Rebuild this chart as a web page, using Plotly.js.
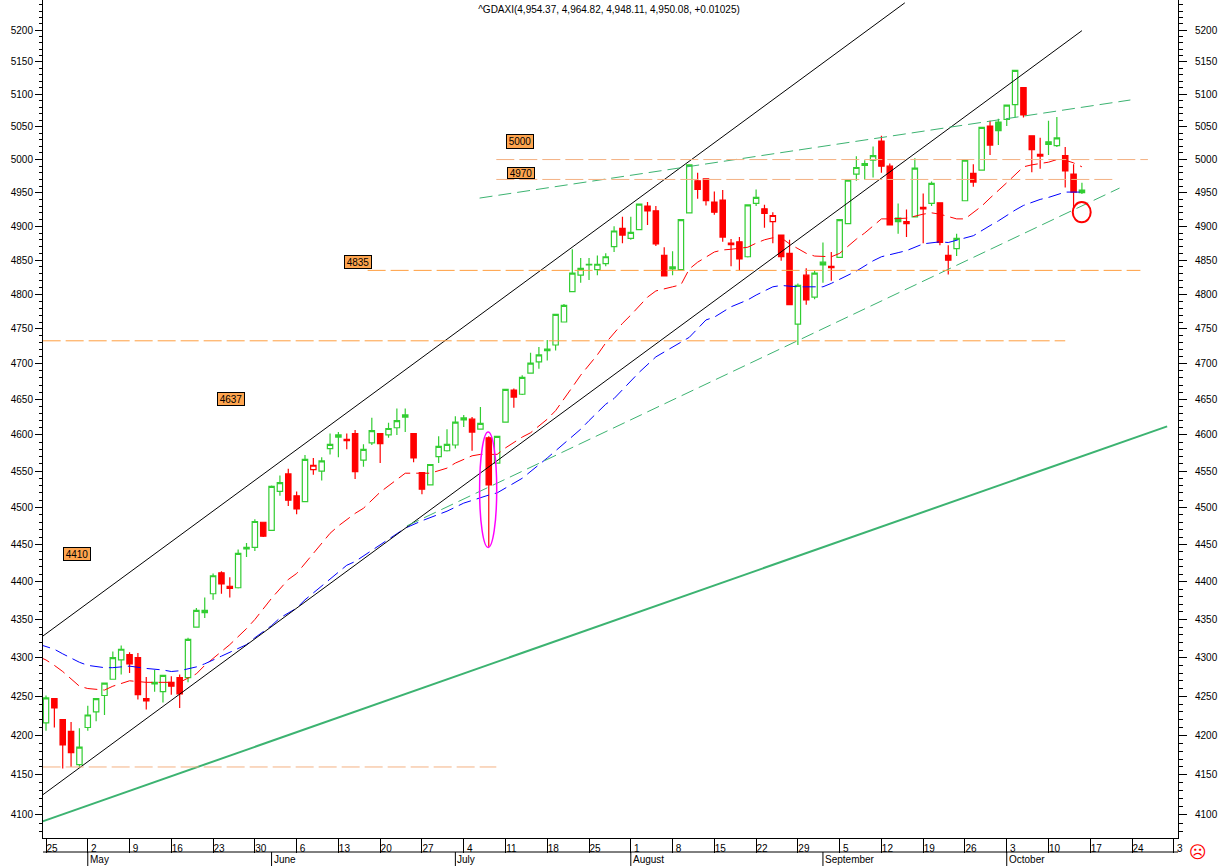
<!DOCTYPE html>
<html>
<head>
<meta charset="utf-8">
<script src="https://cdn.plot.ly/plotly-3.0.1.min.js"></script>
<style>html,body{margin:0;padding:0;background:#fff}#chart{width:1220px;height:866px}</style>
</head>
<body>
<div id="chart"></div>
<script>
const colorCodes = [
"G","R","R","R","G","G","G","G","G","G","R","R","R","G","G","R","R","G","G","G","G","R","R","G","G","G","R","G","G","R",
"R","G","R","G","G","G","R","R","G","G","R","G","G","G","R","R","G","G","G","G","G","R","G","R","G","G","R","G","G","G",
"G","G","G","G","G","G","G","G","G","R","G","G","R","R","R","G","G","G","R","R","R","R","R","R","G","G","R","R","R","R",
"G","R","G","G","R","G","G","G","G","G","R","R","G","R","G","R","G","R","R","G","G","R","G","R","G","G","G","R","R","R",
"G","G","R","R","G"];
const opens = [4216,4247,4220,4205,4163,4210,4230,4251,4272,4297,4304,4300,4247,4268,4256,4268,4274,4274,4340,4359,4384,4412,4394,4392,4444,
4446,4480,4469,4522,4546,4516,4508,4552,4550,4581,4600,4594,4602,4565,4589,4602,4600,4610,4628,4602,4548,4531,4570,4578,4586,
4621,4622,4608,4596,4561,4618,4663,4657,4687,4703,4721,4727,4760,4804,4828,4843,4836,4845,4870,4897,4882,4895,4930,4923,4857,
4840,4836,4920,4968,4971,4936,4939,4875,4877,4855,4934,4926,4907,4887,4860,4757,4828,4796,4847,4841,4854,4904,4978,4991,4999,
5028,4990,4912,4904,4914,4928,4934,4935,4857,4867,4938,4979,4984,5051,5057,5061,5084,5110,5036,5005,5027,5021,5006,4978,4954];
const highs = [4251,4247,4220,4217,4209,4238,4247,4267,4308,4316,4307,4306,4275,4284,4277,4276,4278,4326,4365,4379,4411,4414,4406,4443,4452,
4484,4480,4530,4544,4553,4522,4572,4568,4569,4602,4604,4602,4607,4587,4624,4602,4617,4637,4637,4602,4548,4559,4598,4608,4626,
4628,4625,4639,4598,4598,4664,4665,4684,4716,4724,4734,4771,4786,4866,4853,4853,4857,4860,4900,4914,4914,4933,4936,4930,4869,
4863,4910,4992,4980,4971,4952,4954,4881,4884,4932,4955,4932,4921,4887,4880,4816,4838,4835,4876,4862,4910,4969,5005,4999,5020,
5036,4994,4934,4925,5002,4949,4967,4935,4872,4889,4999,4993,5049,5059,5062,5083,5138,5110,5036,5033,5059,5065,5019,4993,4965];
const lows = [4206,4210,4158,4160,4159,4206,4218,4226,4272,4278,4280,4246,4233,4256,4242,4252,4235,4268,4339,4352,4376,4384,4379,4391,4433,
4441,4460,4469,4516,4502,4491,4508,4545,4537,4573,4569,4580,4539,4556,4586,4561,4596,4600,4604,4562,4518,4530,4561,4577,4581,
4611,4578,4608,4447,4561,4618,4638,4656,4687,4693,4705,4719,4760,4804,4817,4821,4828,4841,4862,4875,4880,4895,4902,4871,4827,
4828,4836,4920,4941,4931,4917,4877,4841,4835,4854,4930,4898,4875,4849,4785,4727,4785,4793,4817,4820,4854,4904,4968,4970,4973,
4980,4901,4889,4884,4914,4875,4930,4872,4829,4856,4938,4959,4984,5007,5022,5051,5064,5064,4981,4986,5007,5019,4958,4928,4948];
const closes = [4248,4235,4188,4178,4185,4226,4247,4267,4300,4311,4292,4252,4244,4266,4277,4263,4253,4324,4362,4362,4408,4397,4391,4438,4446,
4481,4461,4529,4534,4510,4498,4566,4558,4564,4587,4597,4592,4549,4580,4606,4588,4609,4620,4625,4568,4525,4559,4584,4587,4618,
4624,4604,4616,4531,4598,4664,4653,4681,4701,4713,4719,4771,4784,4831,4838,4844,4844,4855,4893,4887,4891,4933,4923,4874,4827,
4837,4910,4992,4955,4938,4921,4884,4873,4852,4932,4943,4919,4916,4855,4785,4813,4792,4831,4843,4839,4910,4969,4988,4994,5006,
4990,4902,4907,4907,4987,4926,4964,4876,4850,4882,4999,4966,5049,5022,5044,5083,5137,5068,5015,5008,5023,5033,4983,4951,4950];

const maRedIdx = [-1,0,1,2,4,5,7,8,10,12,14,16,18,19,21,22,24,25,27,29,30,32,34,35,37,38,40,43,44,46,48,49,51,52,54,55,57,58,60,61,63,64,66,67,69,70,72,73,75,76,77,78,80,81,82,84,85,86,87,88,89,91,92,94,95,97,98,100,101,103,105,106,107,108,109,110,112,113,114,115,117,118,120,121,122,123,124];
const maRedVal = [4302,4297,4290,4282,4263,4260,4258,4263,4270,4268,4268,4268,4279,4290,4308,4317,4338,4350,4378,4403,4411,4438,4465,4475,4492,4499,4521,4547,4547,4547,4554,4561,4571,4573,4573,4582,4597,4603,4622,4634,4667,4684,4713,4730,4758,4770,4796,4805,4811,4814,4837,4847,4862,4865,4866,4869,4875,4880,4883,4883,4874,4860,4856,4855,4860,4881,4890,4911,4911,4912,4918,4920,4918,4914,4911,4911,4930,4942,4953,4965,4989,4992,4996,5000,4999,4995,4989];
const maBlueIdx = [-1,0,1,2,4,5,7,8,10,12,14,15,16,18,19,21,22,24,25,27,28,30,31,33,34,36,37,39,40,42,43,45,47,48,50,51,53,54,56,57,60,63,64,65,67,68,70,71,73,74,76,77,79,80,82,84,85,87,88,90,93,94,96,97,99,100,102,103,105,107,108,110,111,113,114,116,117,119,120,122,124];
const maBlueVal = [4318,4315,4311,4305,4294,4290,4287,4287,4289,4286,4284,4282,4283,4288,4292,4302,4307,4317,4326,4342,4352,4365,4376,4394,4403,4422,4427,4442,4449,4465,4472,4482,4490,4495,4506,4510,4517,4520,4533,4540,4568,4598,4608,4620,4643,4651,4675,4688,4710,4717,4730,4738,4763,4767,4782,4792,4799,4811,4813,4811,4811,4816,4828,4834,4849,4855,4861,4864,4874,4877,4876,4882,4886,4901,4908,4924,4931,4940,4943,4951,4951];

const channelUpperIdx = [-0.4,102.8], channelUpperVal = [4328,5243];
const channelLowerIdx = [-0.4,124], channelLowerVal = [4125,5199];
const supportThickIdx = [-0.4,134.2], supportThickVal = [4092,4612];
const trendUpperIdx = [51.9,129.8], trendUpperVal = [4942,5091];
const trendLowerIdx = [43.2,128.5], trendLowerVal = [4475,4957];

const levels = [
  {v:4835,x:[38.5,131],c:"#FF9F40",w:1},
  {v:4733,x:[-0.4,122],c:"#FF9F40",w:1},
  {v:4160,x:[-0.4,53.9],c:"#F4B183",w:1},
  {v:5000,x:[53.9,131.9],c:"#F4B183",w:1},
  {v:4970,x:[53.9,128.1],c:"#F4B183",w:1}
];
const levelLabels = [
  {t:"4410",i:3.7,v:4437,h:12},{t:"4637",i:22.1,v:4651,h:12},{t:"4835",i:37.3,v:4847,h:12},
  {t:"5000",i:56.7,v:5028,h:13},{t:"4970",i:56.8,v:4979,h:10}
];
const weekTickIdx = [0,5,10,15,20,25,30,35,40,45,50,55,60,65,70,75,80,85,90,95,100,105,110,115,120,125,130,135];
const weekTickText = ["25","2","9","16","23","30","6","13","20","27","4","11","18","25","1","8","15","22","29","5","12","19","26","3","10","17","24","3"];
const monthIdx = [5,27,49,70,93,115];
const monthText = ["May","June","July","August","September","October"];
const yMajor = [4100,4150,4200,4250,4300,4350,4400,4450,4500,4550,4600,4650,4700,4750,4800,4850,4900,4950,5000,5050,5100,5150,5200];
const yMinor = [];
for (let v=4080;v<=5240;v+=10){ if(v%50!==0) yMinor.push(v); }

const FONT = '"Liberation Sans", Arial, sans-serif';
const N = opens.length, idx = Array.from({length:N},(_, i)=>i);
function candles(code, col){
  const pick = idx.filter(i=>colorCodes[i]===code);
  return {type:"candlestick", x:pick, open:pick.map(i=>opens[i]), high:pick.map(i=>highs[i]),
    low:pick.map(i=>lows[i]), close:pick.map(i=>closes[i]), whiskerwidth:0, hoverinfo:"skip",
    increasing:{line:{color:col,width:1.2},fillcolor:"#ffffff"},
    decreasing:{line:{color:col,width:1.2},fillcolor:col}};
}
function line(x,y,color,width,dash,yaxis){
  return {type:"scatter",mode:"lines",x:x,y:y,yaxis:yaxis||"y",hoverinfo:"skip",
    line:{color:color,width:width,dash:dash||"solid"}};
}
const data = [
  candles("G","#32CD32"),
  candles("R","#FF0000"),
  line(maRedIdx,maRedVal,"#FF0000",1,"13px,6px"),
  line(maBlueIdx,maBlueVal,"#0000FF",1,"13px,6px"),
  line(channelUpperIdx,channelUpperVal,"#000000",1,null,"y2"),
  line(channelLowerIdx,channelLowerVal,"#000000",1,null,"y2"),
  line(supportThickIdx,supportThickVal,"#3CB371",2,null,"y2"),
  line(trendUpperIdx,trendUpperVal,"#3CB371",1,"13px,6px","y2"),
  line(trendLowerIdx,trendLowerVal,"#3CB371",1,"13px,6px","y2")
];
levels.forEach(l=>data.push(line(l.x,[l.v,l.v],l.c,l.w,"18px,5px","y2")));

const yRange = [Math.log10(4071.5),Math.log10(5247.5)];
const H = 838;
const shapes = [
  {type:"circle",xref:"x",yref:"y",x0:51.9,x1:53.95,y0:4446,y1:4604,line:{color:"#FF00FF",width:1.5}},
  {type:"circle",xref:"x",yref:"y",x0:122.9,x1:125.05,y0:4906,y1:4936,line:{color:"#FF0000",width:2}},
  {type:"line",xref:"paper",yref:"paper",x0:0,x1:1,y0:-14/H,y1:-14/H,line:{color:"#000",width:1}}
].concat(monthIdx.map(i=>({type:"line",xref:"x",yref:"paper",x0:i,x1:i,y0:-14/H,y1:-28/H,line:{color:"#000",width:1}})));

const annotations = levelLabels.map(l=>({xref:"x",yref:"y",x:l.i,y:Math.log10(l.v),text:l.t,showarrow:false,width:26,height:l.h,
  font:{family:FONT,size:10,color:"#000"},bgcolor:"#FFA54F",bordercolor:"#000",borderwidth:1,borderpad:0}))
 .concat(monthIdx.map((i,k)=>({xref:"x",yref:"paper",x:i,y:-14/H,yanchor:"top",xanchor:"left",
  text:monthText[k],showarrow:false,font:{family:FONT,size:10,color:"#000"}})))
 .concat([{xref:"paper",yref:"paper",x:(1198-43)/1135,y:-14/H,xanchor:"center",yanchor:"middle",text:"☹",showarrow:false,
  font:{family:"DejaVu Sans",size:17,color:"#FF0000"}}]);

const yCommon = {type:"log",range:yRange,tickmode:"array",tickvals:yMajor,ticktext:yMajor.map(String),
  ticks:"outside",showgrid:false,zeroline:false,showline:true,linecolor:"#000",linewidth:1,tickcolor:"#000",tickwidth:1,
  tickfont:{family:FONT,size:10,color:"#000"}};
const layout = {
  width:1220,height:866,margin:{l:43,r:42,t:0,b:28,pad:0},paper_bgcolor:"#fff",plot_bgcolor:"#fff",showlegend:false,
  boxgap:0.08,dragmode:false,hovermode:false,
  title:{text:"^GDAXI(4,954.37, 4,964.82, 4,948.11, 4,950.08, +0.01025)",x:609/1220,y:1-9/866,xref:"container",yref:"container",
    xanchor:"center",yanchor:"middle",font:{family:FONT,size:10,color:"#000"}},
  xaxis:{type:"linear",range:[-0.36,135.5],tickmode:"array",tickvals:weekTickIdx,ticktext:weekTickText,ticks:"outside",ticklen:14,
    tickcolor:"#000",tickwidth:1,showgrid:false,zeroline:false,showline:true,linecolor:"#000",linewidth:1,
    ticklabelshift:6,ticklabelstandoff:-13,tickangle:0,tickfont:{family:FONT,size:10,color:"#000"},rangeslider:{visible:false},fixedrange:true},
  yaxis:Object.assign({},yCommon,{side:"left",ticklen:7,ticklabelstandoff:0,fixedrange:true,
    minor:{tickmode:"array",tickvals:yMinor,ticks:"outside",ticklen:3,tickcolor:"#000",tickwidth:1,showgrid:false}}),
  yaxis2:Object.assign({},yCommon,{side:"right",overlaying:"y",ticklen:8,ticklabelstandoff:6,fixedrange:true,
    minor:{tickmode:"array",tickvals:yMinor,ticks:"outside",ticklen:4,tickcolor:"#000",tickwidth:1,showgrid:false}}),
  shapes:shapes,annotations:annotations
};
Plotly.newPlot("chart",data,layout,{staticPlot:true,displayModeBar:false});
</script>
</body>
</html>
